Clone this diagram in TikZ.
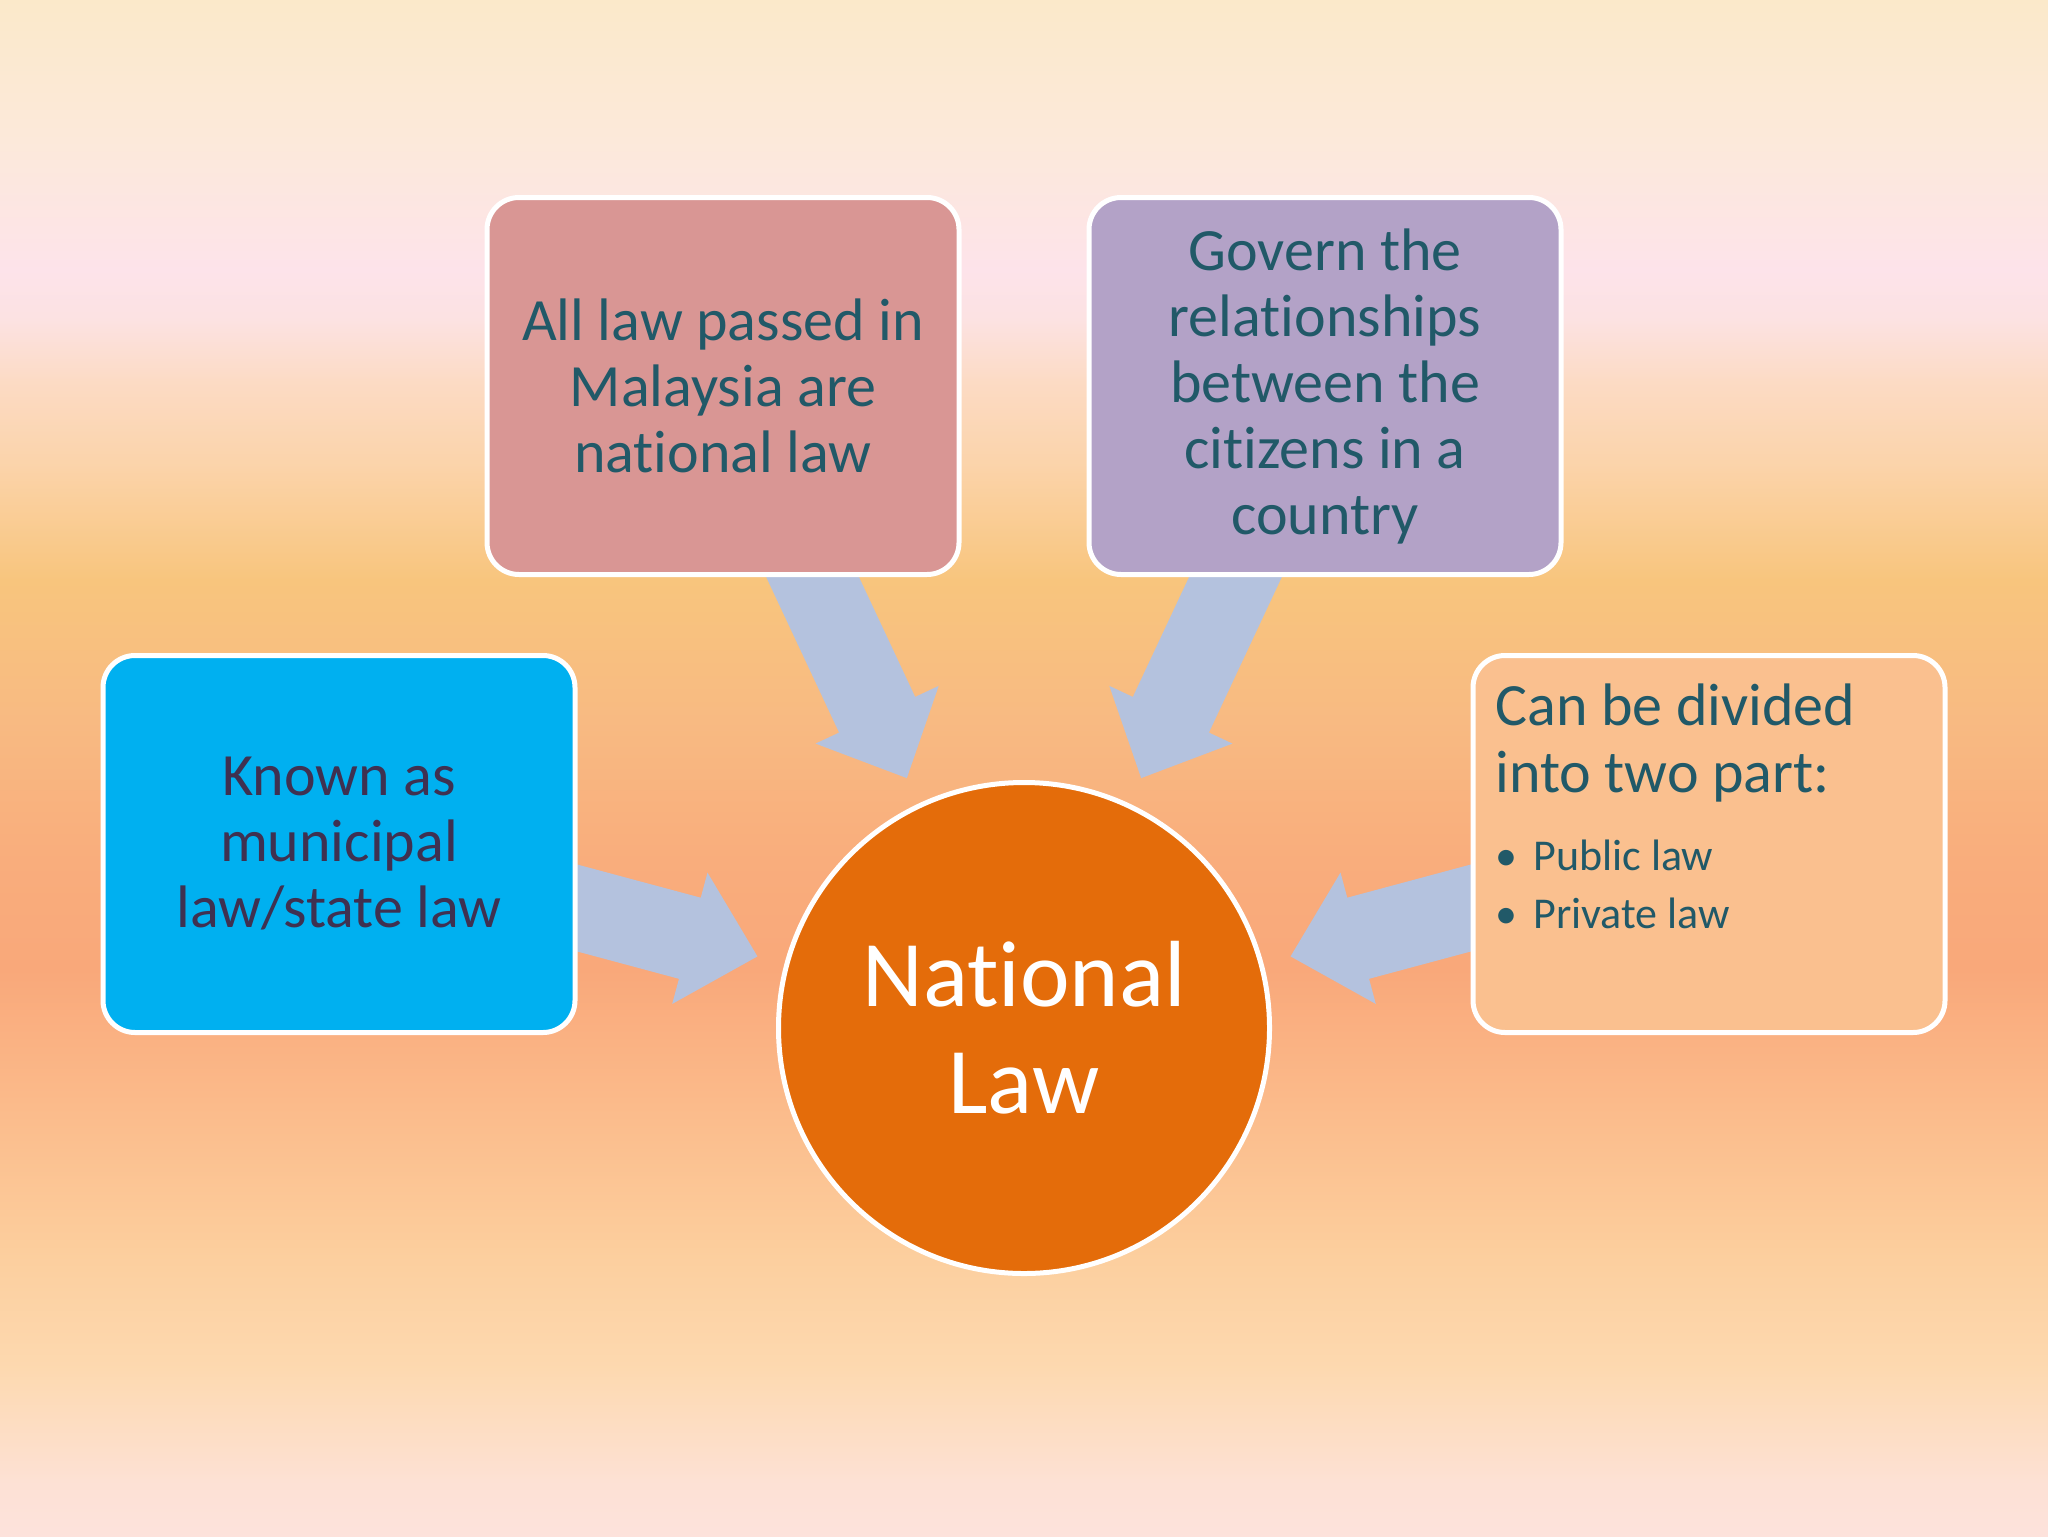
\documentclass[tikz,border=0pt]{standalone}
\usepackage{fontspec}
\setmainfont{Carlito}[Ligatures=NoCommon]
\usetikzlibrary{calc,positioning}

\definecolor{pinkbox}{HTML}{D99694}
\definecolor{lilacbox}{HTML}{B3A2C7}
\definecolor{bluebox}{HTML}{00B0F0}
\definecolor{peachbox}{HTML}{FAC08F}
\definecolor{lawcircle}{HTML}{E46C0A}
\definecolor{arrowfill}{HTML}{B4C2DE}
\definecolor{tealtext}{HTML}{215968}
\definecolor{plumtext}{HTML}{3F3151}

\pgfdeclarelayer{backdrop}
\pgfdeclarelayer{links}
\pgfsetlayers{backdrop,links,main}

\tikzset{
  box/.style={rectangle, rounded corners=16pt, draw=white, line width=2.5pt,
    minimum width=236pt, minimum height=188.5pt, inner sep=0pt,
    align=center, text=tealtext, font=\fontsize{30}{33}\selectfont},
  hub/.style={circle, draw=white, line width=2.5pt, fill=lawcircle,
    minimum size=245.5pt, inner sep=0pt, text=white, align=center,
    font=\fontsize{47}{53.5}\selectfont},
  parttext/.style={anchor=base west, text=tealtext, inner sep=0pt},
  blockarrow/.style={fill=arrowfill}
}

% block arrow from a box towards the hub
\newcommand\flowarrow[2]{%
  \path (#1.center) coordinate (fa-s)
        ($(#2.center)!138pt!(#1.center)$) coordinate (fa-t)
        ($(fa-t)!35pt!(fa-s)$) coordinate (fa-h);
  \fill[blockarrow] ($(fa-s)!21pt!90:(fa-t)$) -- ($(fa-h)!21pt!90:(fa-t)$)
    -- ($(fa-h)!34pt!90:(fa-t)$) -- (fa-t) -- ($(fa-h)!34pt!-90:(fa-t)$)
    -- ($(fa-h)!21pt!-90:(fa-t)$) -- ($(fa-s)!21pt!-90:(fa-t)$) -- cycle;}

\begin{document}
\begin{tikzpicture}[x=0.5pt,y=-0.5pt]
  \useasboundingbox (0,0) rectangle (2048,1536);

  \begin{pgfonlayer}{backdrop}
    \foreach \ya/\yb/\ca/\cb in {0/140/FBE9CA/FCE9DA, 140/270/FCE9DA/FDE3EA,
        270/320/FDE3EA/FCE2E2, 320/380/FCE2E2/FCDBC5, 380/470/FCDBC5/FBD3A8,
        470/580/FBD3A8/F8C57D, 580/720/F8C57D/F8BA82, 720/860/F8BA82/F9AD7C,
        860/970/F9AD7C/F9A87A, 970/1100/F9A87A/FBBA8A, 1100/1250/FBBA8A/FCCE9D,
        1250/1370/FCCE9D/FDD9B0, 1370/1480/FDD9B0/FDE1D4, 1480/1536/FDE1D4/FDE2DC}{
      \definecolor{bandtop}{HTML}{\ca}
      \definecolor{bandbot}{HTML}{\cb}
      \shade[top color=bandtop, bottom color=bandbot] (0,\ya-1) rectangle (2048,\yb+1);
    }
  \end{pgfonlayer}

  \node[box, fill=pinkbox] (passed) at (723,386) {All law passed in\\Malaysia are\\national law};
  \node[box, fill=lilacbox] (govern) at (1325,386) {Govern the\\relationships\\between the\\citizens in a\\country};
  \node[box, fill=bluebox, text=plumtext] (known) at (339,844) {Known as\\municipal\\law/state law};
  \node[box, fill=peachbox] (parts) at (1709,844) {};
  \node[hub] (nat) at (1024,1028) {National\\Law};

  \begin{scope}[every node/.style={parttext}]
    \node[font=\fontsize{30}{33}\selectfont] (canbe) at (1495,725) {Can be divided};
    \node[font=\fontsize{30}{33}\selectfont] (intotwo) at (1495,792) {into two part:};
    \node[font=\fontsize{22}{29}\selectfont] (publaw) at (1495,870) {\makebox[19pt][l]{\textbullet}Public law};
    \node[font=\fontsize{22}{29}\selectfont] (privlaw) at (1495,928) {\makebox[19pt][l]{\textbullet}Private law};
  \end{scope}

  \begin{pgfonlayer}{links}
    \flowarrow{passed}{nat}
    \flowarrow{govern}{nat}
    \flowarrow{known}{nat}
    \flowarrow{parts}{nat}
  \end{pgfonlayer}
\end{tikzpicture}
\end{document}
